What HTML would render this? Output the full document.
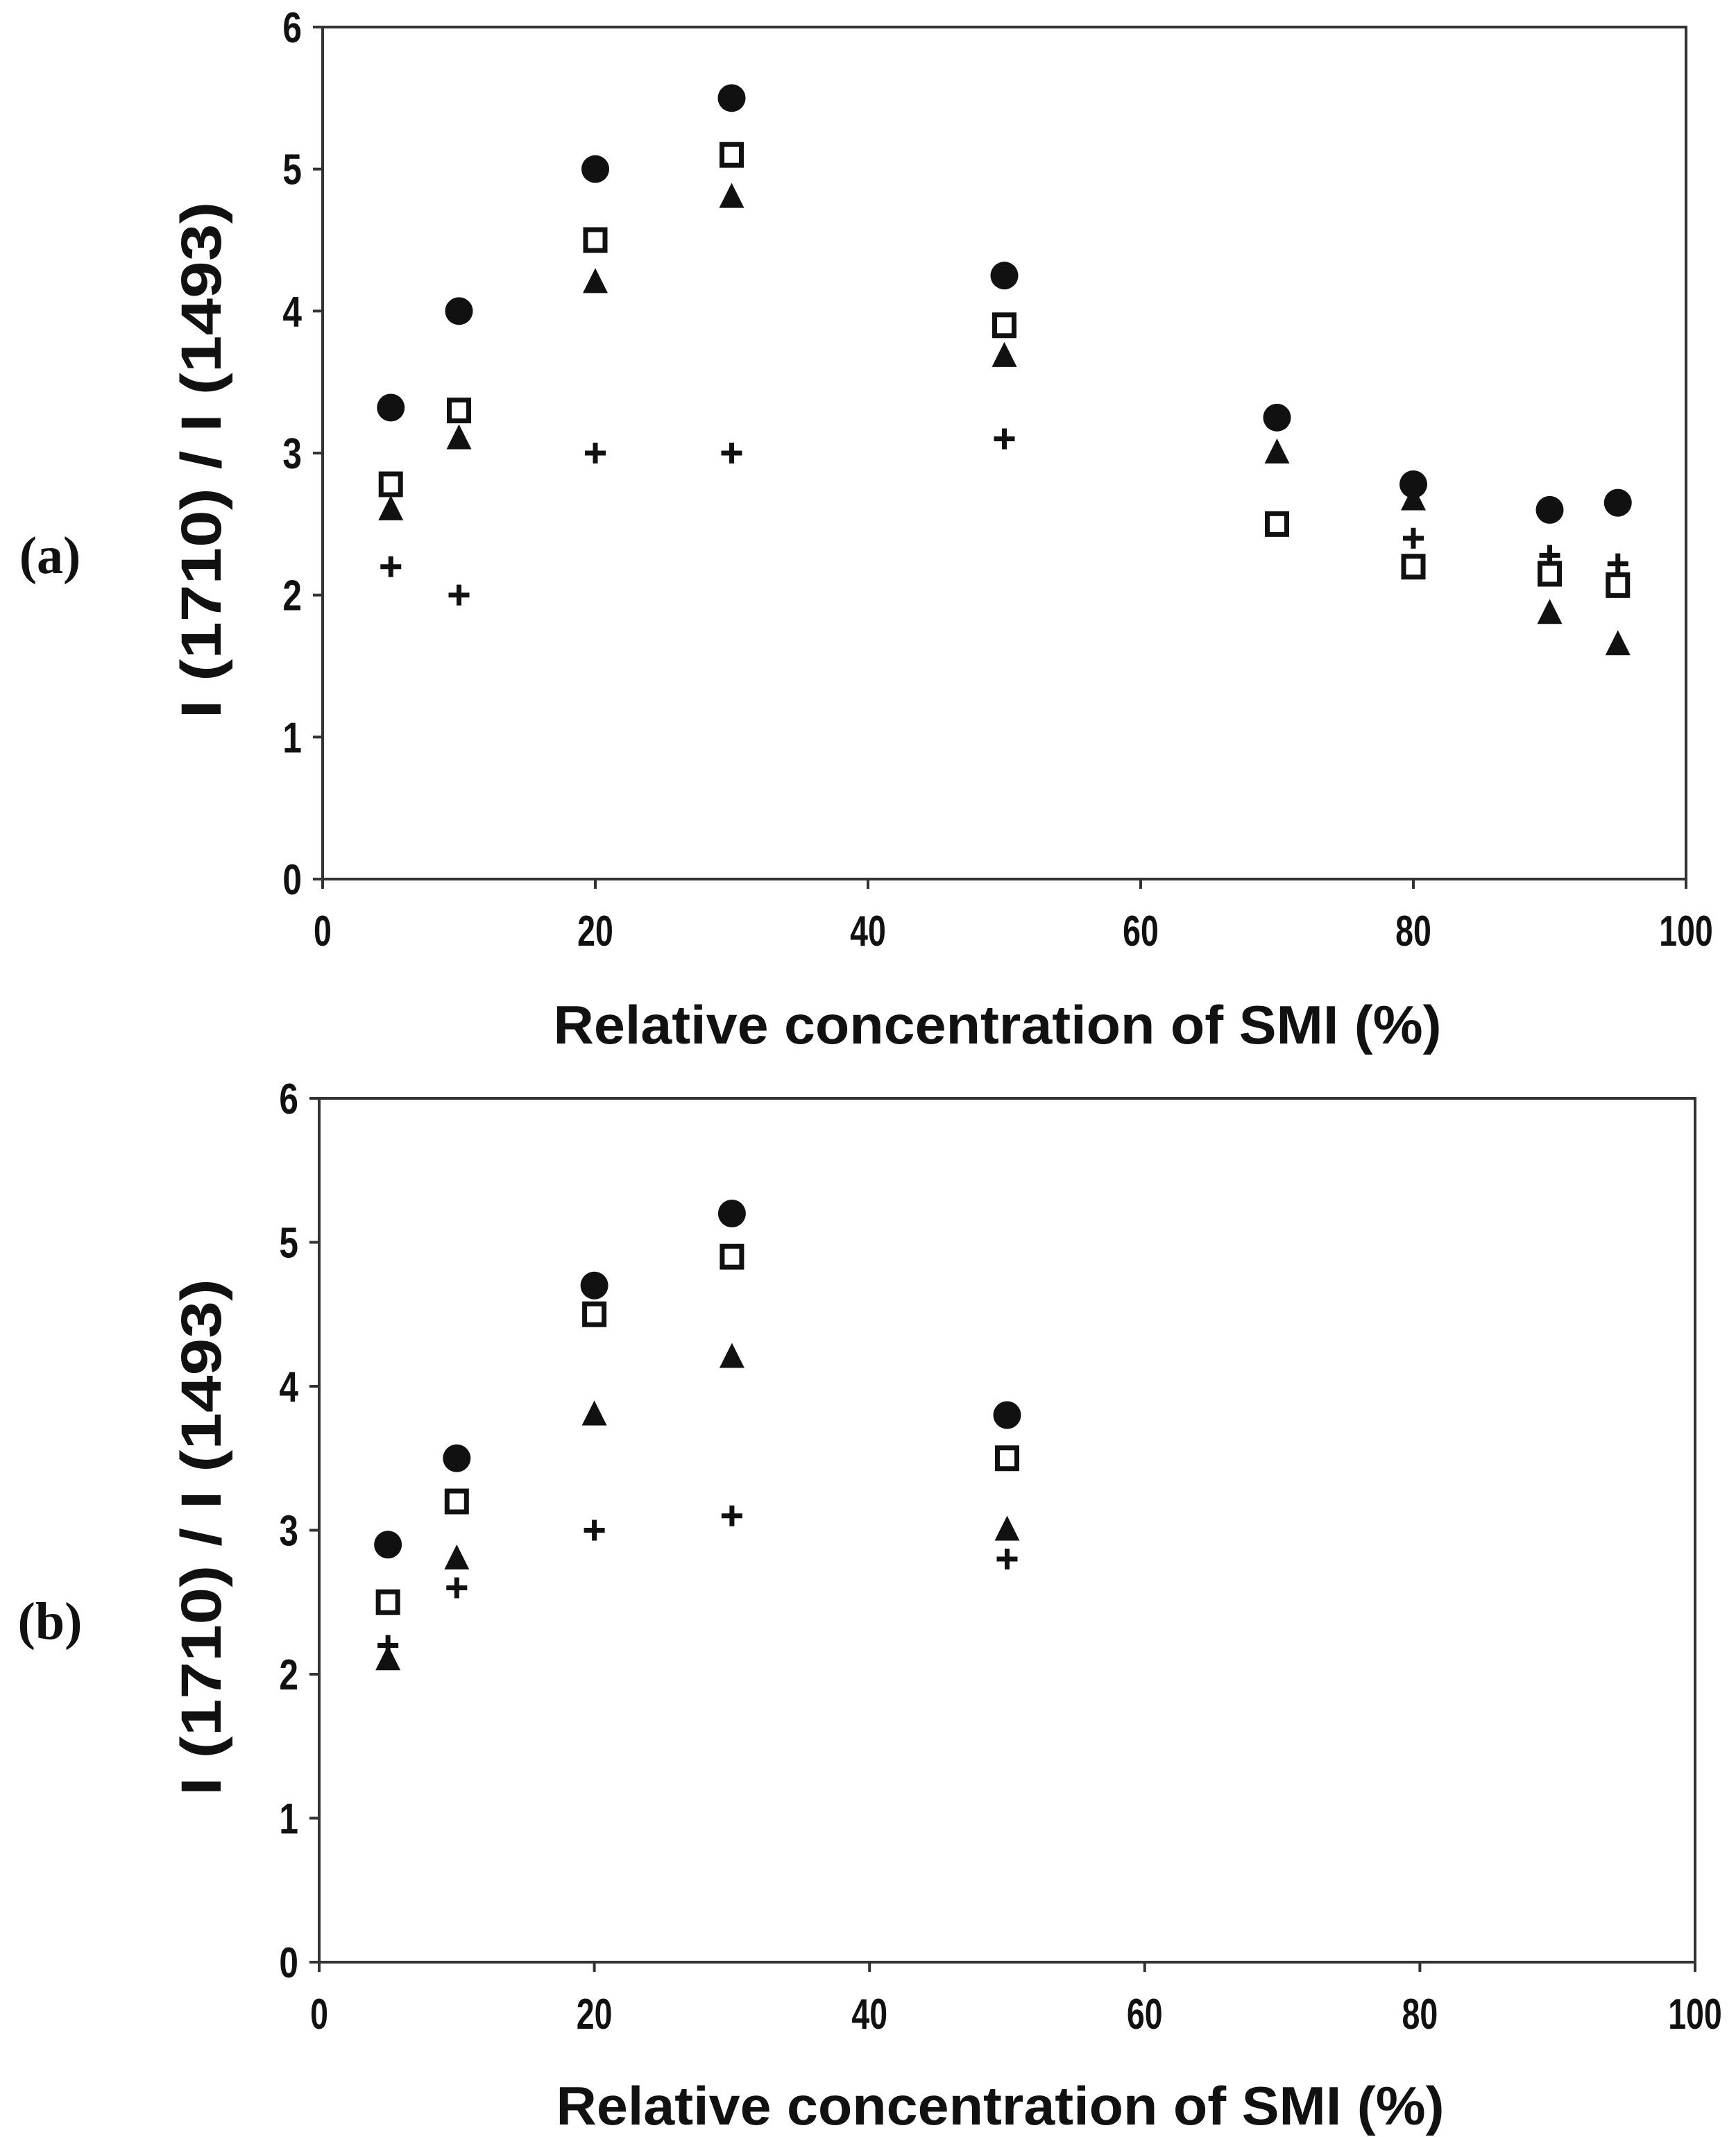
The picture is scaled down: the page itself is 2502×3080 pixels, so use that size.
<!DOCTYPE html>
<html><head><meta charset="utf-8"><style>
html,body{margin:0;padding:0;background:#fff}
svg{display:block}
text{font-family:"Liberation Sans",Arial,sans-serif;font-weight:bold;fill:#111}
</style></head><body>
<svg id="chart" width="2502" height="3080" viewBox="0 0 2502 3080" xmlns="http://www.w3.org/2000/svg">
<text x="72" y="826" font-size="76" text-anchor="middle" style="font-family:'Liberation Serif',serif">(a)</text>
<text x="72" y="2362" font-size="76" text-anchor="middle" style="font-family:'Liberation Serif',serif">(b)</text>
</svg>
<script>
const xTicks=[0,20,40,60,80,100];
const yTicks=[0,1,2,3,4,5,6];
const xA=[5,10,20,30,50,70,80,90,95];
const aCircle=[3.32,4.0,5.0,5.5,4.25,3.25,2.78,2.6,2.65];
const aSquare=[2.78,3.3,4.5,5.1,3.9,2.5,2.2,2.15,2.07];
const aTriangle=[2.6,3.1,4.2,4.8,3.68,3.0,2.67,1.87,1.65];
const aPlus=[2.2,2.0,3.0,3.0,3.1,null,2.4,2.28,2.22];
const xB=[5,10,20,30,50];
const bCircle=[2.9,3.5,4.7,5.2,3.8];
const bSquare=[2.5,3.2,4.5,4.9,3.5];
const bTriangle=[2.1,2.8,3.8,4.2,3.0];
const bPlus=[2.2,2.6,3.0,3.1,2.8];

const NS="http://www.w3.org/2000/svg";
const svg=document.getElementById('chart');
function mk(tag,attrs,parent){const e=document.createElementNS(NS,tag);for(const k in attrs)e.setAttribute(k,attrs[k]);(parent||svg).appendChild(e);return e;}

function panel(p,L,R,T,B,xs,series,titleY){
  const g=mk('g',{});
  
  
  const sx=v=>L+(v-0)/100*(R-L);
  const sy=v=>B-(v-0)/6*(B-T);
  const frame=mk('rect',{x:L,y:T,width:R-L,height:B-T,fill:'none',stroke:'#333','stroke-width':4},g);
  
  
  xTicks.forEach(t=>{
    const l=mk('line',{x1:sx(t),x2:sx(t),y1:B,y2:B+14,stroke:'#333','stroke-width':4},g);
    
    
    const tx=mk('text',{x:sx(t),y:B+96,'font-size':62,'text-anchor':'middle',transform:`translate(${sx(t)},0) scale(0.75,1) translate(${-sx(t)},0)`},g);
    tx.textContent=t;
    
    
  });
  yTicks.forEach(t=>{
    const l=mk('line',{x1:L-14,x2:L,y1:sy(t),y2:sy(t),stroke:'#333','stroke-width':4},g);
    
    
    const tx=mk('text',{x:L-30,y:sy(t)+22,'font-size':62,'text-anchor':'end',transform:`translate(${L-30},0) scale(0.8,1) translate(${-(L-30)},0)`},g);
    tx.textContent=t;
    
    
  });
  const xt=mk('text',{x:(L+R)/2-10,y:titleY,'font-size':78,'text-anchor':'middle',textLength:1280,lengthAdjust:'spacingAndGlyphs'},g);
  xt.textContent='Relative concentration of SMI (%)';
  
  
  const cy=(T+B)/2+10;
  const yt=mk('text',{x:0,y:0,'font-size':82,'text-anchor':'middle',textLength:745,lengthAdjust:'spacingAndGlyphs',transform:`translate(318,${cy}) rotate(-90)`},g);
  yt.textContent='I (1710) / I (1493)';
  
  
  const [circ,sq,tri,pl]=series;
  xs.forEach((x,i)=>{
    const X=sx(x);
    if(tri[i]!=null){const Y=sy(tri[i]);const m=mk('polygon',{points:`${X},${Y-21} ${X-18},${Y+15} ${X+18},${Y+15}`,fill:'#111'},g);
      
      }
    if(sq[i]!=null){const Y=sy(sq[i]);const m=mk('rect',{x:X-14,y:Y-15,width:28,height:30,fill:'#fff',stroke:'#111','stroke-width':7},g);
      
      }
    if(pl[i]!=null){const Y=sy(pl[i]);const m=mk('path',{d:`M${X-15},${Y}H${X+15}M${X},${Y-15}V${Y+15}`,stroke:'#111','stroke-width':7},g);
      
      }
    if(circ[i]!=null){const Y=sy(circ[i]);const m=mk('circle',{cx:X,cy:Y,r:20,fill:'#111'},g);
      
      }
  });
}
panel('a',465,2430,39,1267,xA,[aCircle,aSquare,aTriangle,aPlus],1504);
panel('b',460,2443,1583,2828,xB,[bCircle,bSquare,bTriangle,bPlus],3062);
</script>
</body></html>
